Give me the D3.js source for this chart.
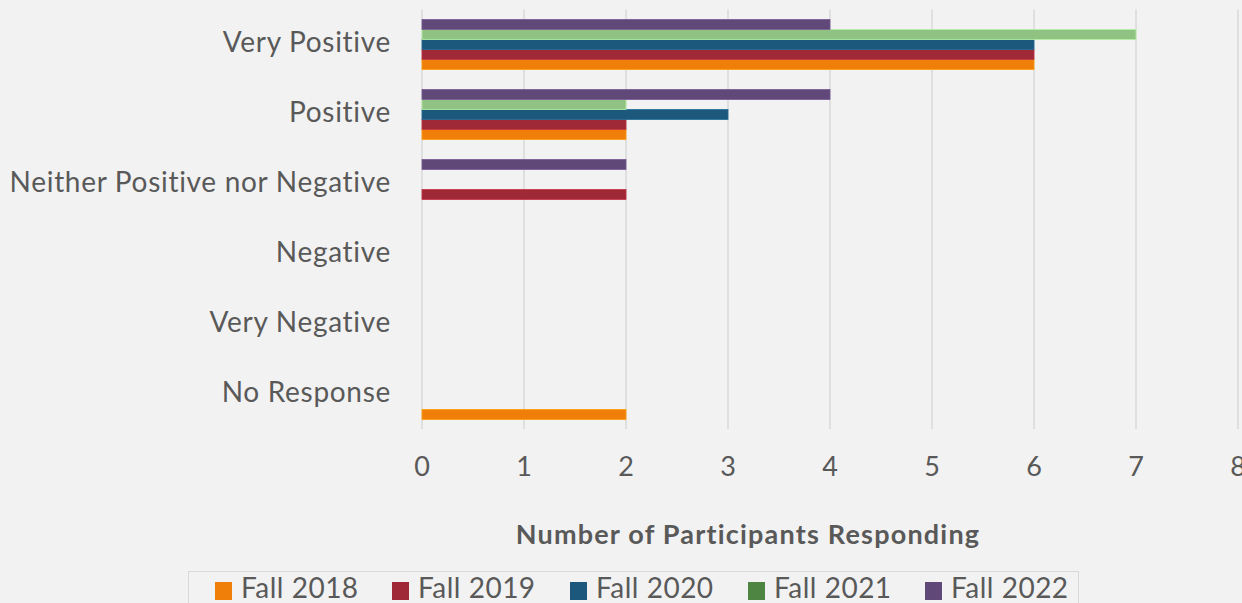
<!DOCTYPE html>
<html><head><meta charset="utf-8">
<script src="https://cdn.jsdelivr.net/npm/d3@7"></script>
<style>html,body{margin:0;padding:0;background:#f2f2f2;} svg{display:block;}</style>
</head><body><svg id="c" width="1242" height="603"></svg>
<script>
const categories = ["Very Positive","Positive","Neither Positive nor Negative","Negative","Very Negative","No Response"];
const seriesNames = ["Fall 2018","Fall 2019","Fall 2020","Fall 2021","Fall 2022"];
const fall2018 = [6,2,0,0,0,2];
const fall2019 = [6,2,2,0,0,0];
const fall2020 = [6,3,0,0,0,0];
const fall2021 = [7,2,0,0,0,0];
const fall2022 = [4,4,2,0,0,0];
const barColors = ["#f07f09","#9f2936","#1b587c","#90c383","#604878"];
const legendColors = ["#f07f09","#9f2936","#1b587c","#4e8542","#604878"];
const xTicks = [0,1,2,3,4,5,6,7,8];
const xTitle = "Number of Participants Responding";

const values = [fall2018,fall2019,fall2020,fall2021,fall2022];
const svg = d3.select("#c");
const font = "Lato, 'Open Sans', sans-serif";
const textColor = "#595959";

const x = d3.scaleLinear().domain([0,8]).range([422,1238]);
const y = d3.scaleBand().domain(categories).range([9.5,429.5]).paddingInner(2/7).paddingOuter(1/7);
const yInner = d3.scaleBand().domain(seriesNames.slice().reverse()).range([0,y.bandwidth()]);

// gridlines
svg.append("g").selectAll("line").data(xTicks).join("line")
  .attr("x1",d=>x(d)).attr("x2",d=>x(d)).attr("y1",9.5).attr("y2",429)
  .attr("stroke","#d9d9d9").attr("stroke-width",1.5);

// bars
const groups = svg.append("g").selectAll("g").data(categories).join("g")
  .attr("transform",c=>`translate(0,${y(c)})`);
groups.each(function(c,ci){
  d3.select(this).selectAll("rect").data(seriesNames.map((s,si)=>({s,si,v:values[si][ci]})).filter(d=>d.v>0))
    .join("rect")
    .attr("x",x(0)).attr("y",d=>yInner(d.s))
    .attr("width",d=>x(d.v)-x(0)).attr("height",yInner.bandwidth())
    .attr("fill",d=>barColors[d.si])
    .attr("stroke",d=>d3.color(barColors[d.si]).brighter(0.6)).attr("stroke-width",0.8);
});

// category labels
svg.append("g").selectAll("text").data(categories).join("text")
  .attr("x",391).attr("y",c=>y(c)+y.bandwidth()/2+7)
  .attr("text-anchor","end")
  .attr("font-family",font).attr("font-size",28).attr("letter-spacing",0.7)
  .attr("fill",textColor).text(c=>c);

// x tick labels
svg.append("g").selectAll("text").data(xTicks).join("text")
  .attr("x",d=>x(d)).attr("y",476)
  .attr("text-anchor","middle")
  .attr("font-family",font).attr("font-size",27).attr("fill",textColor).text(d=>d);

// axis title
svg.append("text").attr("x",748).attr("y",544)
  .attr("text-anchor","middle")
  .attr("font-family",font).attr("font-size",27).attr("letter-spacing",1.2)
  .attr("font-weight","bold").attr("fill",textColor).text(xTitle);

// legend
svg.append("rect").attr("x",188.5).attr("y",571.5).attr("width",890).attr("height",60)
  .attr("fill","none").attr("stroke","#d9d9d9").attr("stroke-width",1);
const legX = [215,392,570,748,925];
const leg = svg.append("g").selectAll("g").data(seriesNames).join("g")
  .attr("transform",(d,i)=>`translate(${legX[i]},0)`);
leg.append("rect").attr("x",0).attr("y",582).attr("width",17).attr("height",18)
  .attr("fill",(d,i)=>legendColors[i]);
leg.append("text").attr("x",26).attr("y",598)
  .attr("font-family",font).attr("font-size",28).attr("letter-spacing",0.5)
  .attr("fill",textColor).text(d=>d);
</script></body></html>
